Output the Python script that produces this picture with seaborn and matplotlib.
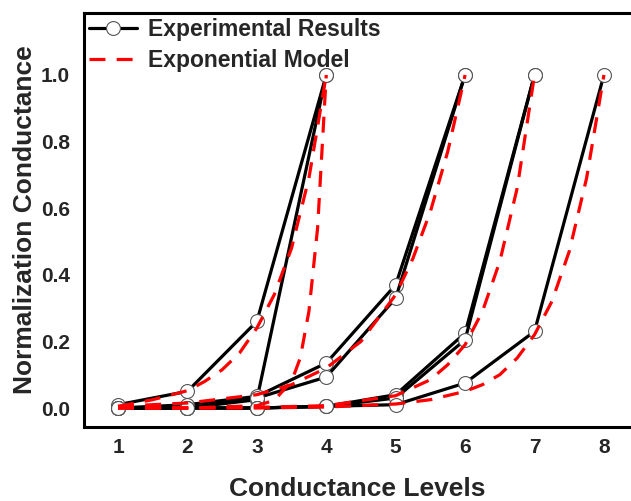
import pandas as pd
import matplotlib.pyplot as plt
import seaborn as sns
from matplotlib.lines import Line2D

# experimental curves (normalized conductance per level)
exp_a = [0.01, 0.05, 0.26, 1.0]
exp_b = [0.0, 0.0, 0.025, 1.0]
exp_c = [0.0, 0.01, 0.035, 0.135, 0.37, 1.0]
exp_d = [0.0, 0.0, 0.03, 0.093, 0.33, 1.0]
exp_e = [0.0, 0.0, 0.0, 0.005, 0.04, 0.225, 1.0]
exp_f = [0.0, 0.0, 0.0, 0.005, 0.03, 0.205, 1.0]
exp_g = [0.0, 0.0, 0.0, 0.005, 0.01, 0.075, 0.23, 1.0]

# exponential model curves
mod_a_x = [1, 1.5, 2, 2.25, 2.5, 2.75, 3, 3.25, 3.5, 3.75, 4]
mod_a_y = [0.005, 0.025, 0.052, 0.08, 0.115, 0.165, 0.24, 0.34, 0.48, 0.69, 1.0]
mod_b_x = [1, 2, 3, 3.25, 3.5, 3.625, 3.75, 3.875, 4]
mod_b_y = [0.0, 0.0, 0.007, 0.023, 0.08, 0.15, 0.29, 0.54, 1.0]
mod_c_x = [1, 2, 3, 3.5, 4, 4.5, 5, 5.25, 5.5, 5.75, 6]
mod_c_y = [0.005, 0.015, 0.04, 0.07, 0.12, 0.2, 0.34, 0.45, 0.59, 0.77, 1.0]
mod_e_x = [1, 2, 3, 4, 5, 5.5, 5.75, 6, 6.25, 6.5, 6.75, 7]
mod_e_y = [0.0, 0.0, 0.002, 0.007, 0.037, 0.085, 0.13, 0.19, 0.29, 0.44, 0.66, 1.0]
mod_g_x = [1, 2, 3, 4, 5, 5.5, 6, 6.25, 6.5, 6.75, 7, 7.25, 7.5, 7.75, 8]
mod_g_y = [0.0, 0.0, 0.0, 0.003, 0.012, 0.025, 0.05, 0.07, 0.1, 0.15, 0.22, 0.32, 0.47, 0.69, 1.0]

levels = [1, 2, 3, 4, 5, 6, 7, 8]

sns.set_style("white")
plt.rcParams['font.family'] = ['Liberation Sans', 'DejaVu Sans']
plt.rcParams['font.weight'] = 'bold'

fig = plt.figure(figsize=(6.31, 5.01), dpi=100)
ax = fig.add_axes([84/631, 74/501, 547/631, 414/501])

for ys in [exp_a, exp_b, exp_c, exp_d, exp_e, exp_f, exp_g]:
    df = pd.DataFrame({"level": levels[:len(ys)], "g": ys})
    sns.lineplot(data=df, x="level", y="g", color="black", lw=2.3,
                 marker="o", markersize=10, markerfacecolor="white",
                 markeredgecolor="#555555", markeredgewidth=0.8, ax=ax)

for mx, my in [(mod_a_x, mod_a_y), (mod_b_x, mod_b_y), (mod_c_x, mod_c_y),
               (mod_e_x, mod_e_y), (mod_g_x, mod_g_y)]:
    df = pd.DataFrame({"level": mx, "g": my})
    sns.lineplot(data=df, x="level", y="g", color="red", lw=2.3,
                 dashes=False, ax=ax).lines[-1].set_dashes([5, 3.5])

ax.set_xlim(0.51, 8.39)
ax.set_ylim(-0.057, 1.186)
ax.set_xticks(levels)
ax.set_yticks([0.0, 0.2, 0.4, 0.6, 0.8, 1.0])
ax.set_yticklabels(["0.0", "0.2", "0.4", "0.6", "0.8", "1.0"])
ax.tick_params(labelsize=15, length=0)
ax.tick_params(axis="x", pad=8)
ax.tick_params(axis="y", pad=10)
for lab in ax.get_xticklabels() + ax.get_yticklabels():
    lab.set_fontweight("bold")
ax.set_xlabel("Conductance Levels", fontsize=19, fontweight="bold", labelpad=14)
ax.set_ylabel("Normalization Conductance", fontsize=19, fontweight="bold", labelpad=3)

for side in ["left", "bottom", "top"]:
    ax.spines[side].set_linewidth(2.2)
    ax.spines[side].set_color("black")
ax.spines["right"].set_visible(False)

handles = [Line2D([], [], color="black", lw=2.3, marker="o", markersize=10,
                  markerfacecolor="white", markeredgecolor="#555555", markeredgewidth=0.8),
           Line2D([], [], color="red", lw=2.3, dashes=[5, 3.5])]
ax.legend(handles, ["Experimental Results", "Exponential Model"], loc="upper left",
          frameon=False, prop={"size": 16.5, "weight": "bold"}, handlelength=2.1,
          borderaxespad=0.0, borderpad=0.2, labelspacing=0.35, handletextpad=0.5)

fig.savefig("out.png", dpi=100)
